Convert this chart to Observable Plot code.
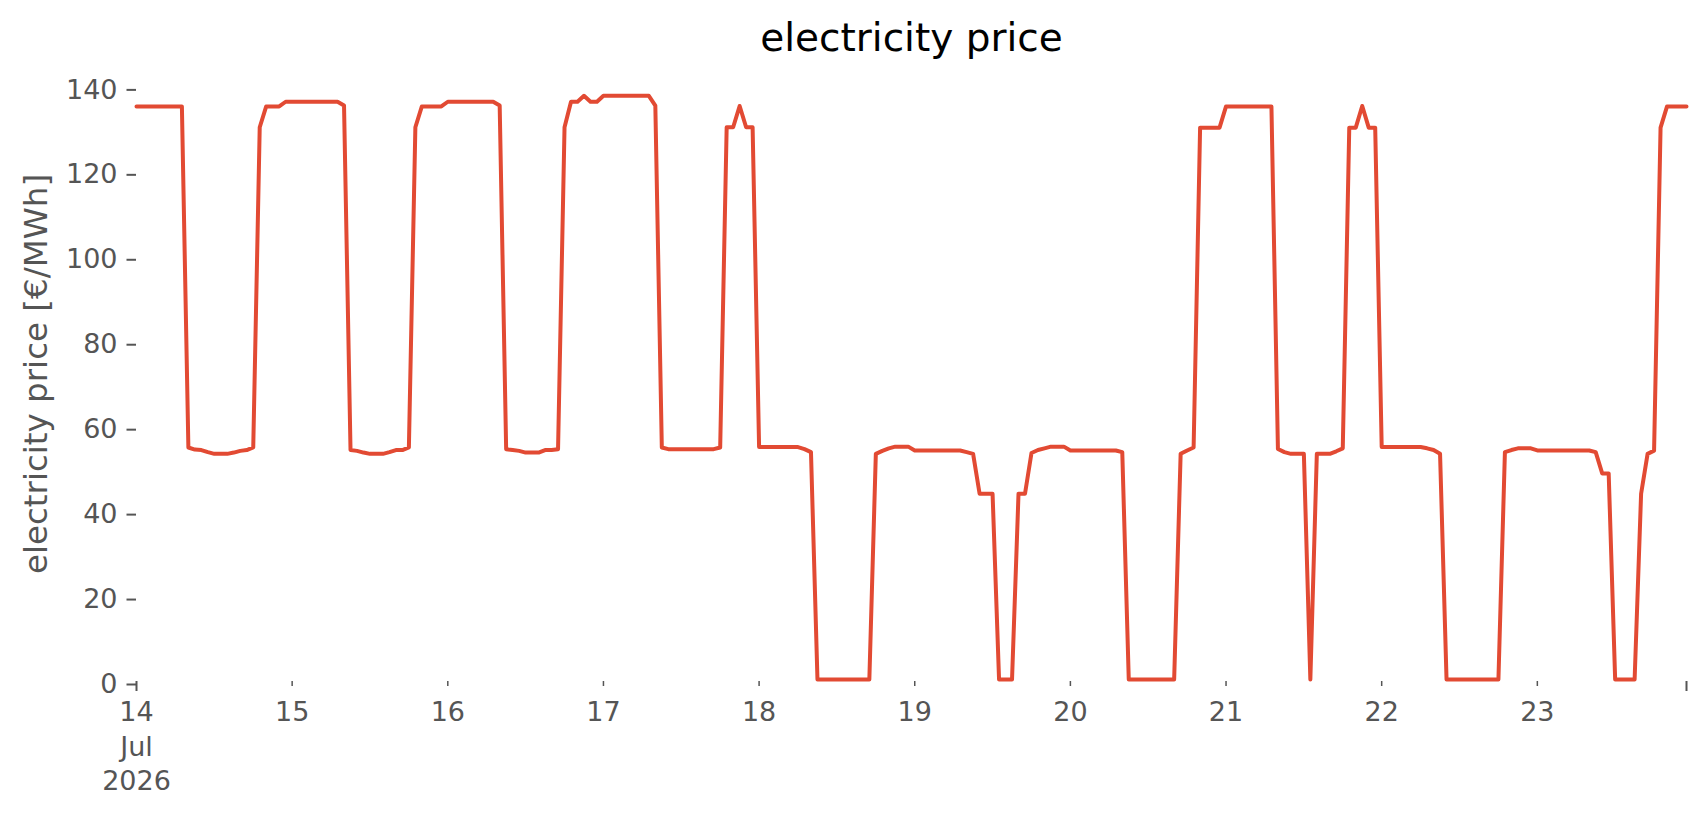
<!DOCTYPE html>
<html>
<head>
<meta charset="utf-8">
<script src="https://cdn.jsdelivr.net/npm/d3@7"></script>
<script src="https://cdn.jsdelivr.net/npm/@observablehq/plot@0.6"></script>
<style>
  html, body { margin: 0; padding: 0; background: #ffffff; }
</style>
</head>
<body>
<div id="chart"></div>
<script>
// ---- data (hourly electricity price, €/MWh) ----
const title = "electricity price";
const yLabel = "electricity price [€/MWh]";
const startTime = "2026-07-14T00:00:00Z";
const endTime = "2026-07-23T23:00:00Z";

const day14 = [135.4,135.4,135.4,135.4,135.4,135.4,135.4,135.4,55.1,54.6,54.5,54.0,53.6,53.6,53.6,53.9,54.3,54.5,55.1,130.5,135.4,135.4,135.4,136.5];
const day15 = [136.5,136.5,136.5,136.5,136.5,136.5,136.5,136.5,135.6,54.5,54.3,53.9,53.6,53.6,53.6,54.0,54.5,54.5,55.1,130.5,135.4,135.4,135.4,135.4];
const day16 = [136.5,136.5,136.5,136.5,136.5,136.5,136.5,136.5,135.6,54.7,54.5,54.3,53.9,53.9,53.9,54.5,54.5,54.7,130.5,136.5,136.5,137.9,136.5,136.5];
const day17 = [137.9,137.9,137.9,137.9,137.9,137.9,137.9,137.9,135.6,55.1,54.7,54.7,54.7,54.7,54.7,54.7,54.7,54.7,55.1,130.5,130.5,135.5,130.5,130.5];
const day18 = [55.2,55.2,55.2,55.2,55.2,55.2,55.2,54.7,54.0,0.47,0.47,0.47,0.47,0.47,0.47,0.47,0.47,0.47,53.6,54.3,54.9,55.3,55.3,55.3];
const day19 = [54.4,54.4,54.4,54.4,54.4,54.4,54.4,54.4,54.0,53.6,44.2,44.2,44.2,0.47,0.47,0.47,44.2,44.2,53.8,54.5,54.9,55.3,55.3,55.3];
const day20 = [54.4,54.4,54.4,54.4,54.4,54.4,54.4,54.4,54.0,0.47,0.47,0.47,0.47,0.47,0.47,0.47,0.47,53.6,54.4,55.1,130.4,130.4,130.4,130.4];
const day21 = [135.4,135.4,135.4,135.4,135.4,135.4,135.4,135.4,54.75,54.0,53.6,53.6,53.6,0.47,53.6,53.6,53.6,54.2,54.9,130.4,130.4,135.5,130.4,130.4];
const day22 = [55.2,55.2,55.2,55.2,55.2,55.2,55.2,54.9,54.5,53.6,0.47,0.47,0.47,0.47,0.47,0.47,0.47,0.47,0.47,54.0,54.5,54.9,54.9,54.9];
const day23 = [54.4,54.4,54.4,54.4,54.4,54.4,54.4,54.4,54.4,54.0,49.0,49.0,0.47,0.47,0.47,0.47,44.2,53.6,54.35,130.4,135.4,135.4,135.4,135.4];

const yTicks = [0, 20, 40, 60, 80, 100, 120, 140];
const xTickDays = ["2026-07-14","2026-07-15","2026-07-16","2026-07-17","2026-07-18","2026-07-19","2026-07-20","2026-07-21","2026-07-22","2026-07-23"];
const xTickLabels = ["14\nJul\n2026","15","16","17","18","19","20","21","22","23"];
const yMax = 144.8;

// ---- build table ----
const prices = [...day14, ...day15, ...day16, ...day17, ...day18, ...day19, ...day20, ...day21, ...day22, ...day23];
const t0 = new Date(startTime).getTime();
const data = prices.map((v, i) => ({time: new Date(t0 + i * 3600000), price: v}));
const x0 = new Date(startTime), x1 = new Date(endTime);
const tickDates = xTickDays.map(d => new Date(d + "T00:00:00Z"));
const labelMap = new Map(tickDates.map((d, i) => [+d, xTickLabels[i]]));

const grey = "#555555";
const chart = Plot.plot({
  width: 1706,
  height: 815,
  marginLeft: 136,
  marginRight: 20,
  marginTop: 66,
  marginBottom: 134,
  style: {fontFamily: "DejaVu Sans", background: "#ffffff", overflow: "visible"},
  x: {type: "utc", domain: [x0, x1]},
  y: {domain: [0, yMax]},
  marks: [
    Plot.axisY({ticks: yTicks, tickSize: 9.5, tickPadding: 9.5, fontSize: 27, color: grey, strokeWidth: 2, dy: 3, label: null, tickFormat: d => String(d)}),
    Plot.axisX({ticks: tickDates.slice(1), tickSize: 5, fill: "none", stroke: grey, strokeWidth: 1.5, label: null}),
    Plot.axisX({ticks: [x0, x1], tickSize: 10, fill: "none", stroke: grey, strokeWidth: 2, label: null}),
    Plot.axisX({ticks: tickDates, tickSize: 0, tickPadding: 15, fontSize: 27, color: grey, lineHeight: 1.28, tickFormat: d => labelMap.get(+d), label: null}),
    Plot.line(data, {x: "time", y: "price", stroke: "#E24A33", strokeWidth: 4}),
    Plot.text([title], {frameAnchor: "top", dy: -16, lineAnchor: "bottom", fontSize: 39, fill: "#000000"}),
    Plot.text([yLabel], {frameAnchor: "left", textAnchor: "middle", lineAnchor: "middle", dx: -100, rotate: -90, fontSize: 32.5, fill: grey})
  ]
});
document.getElementById("chart").appendChild(chart);
</script>
</body>
</html>
